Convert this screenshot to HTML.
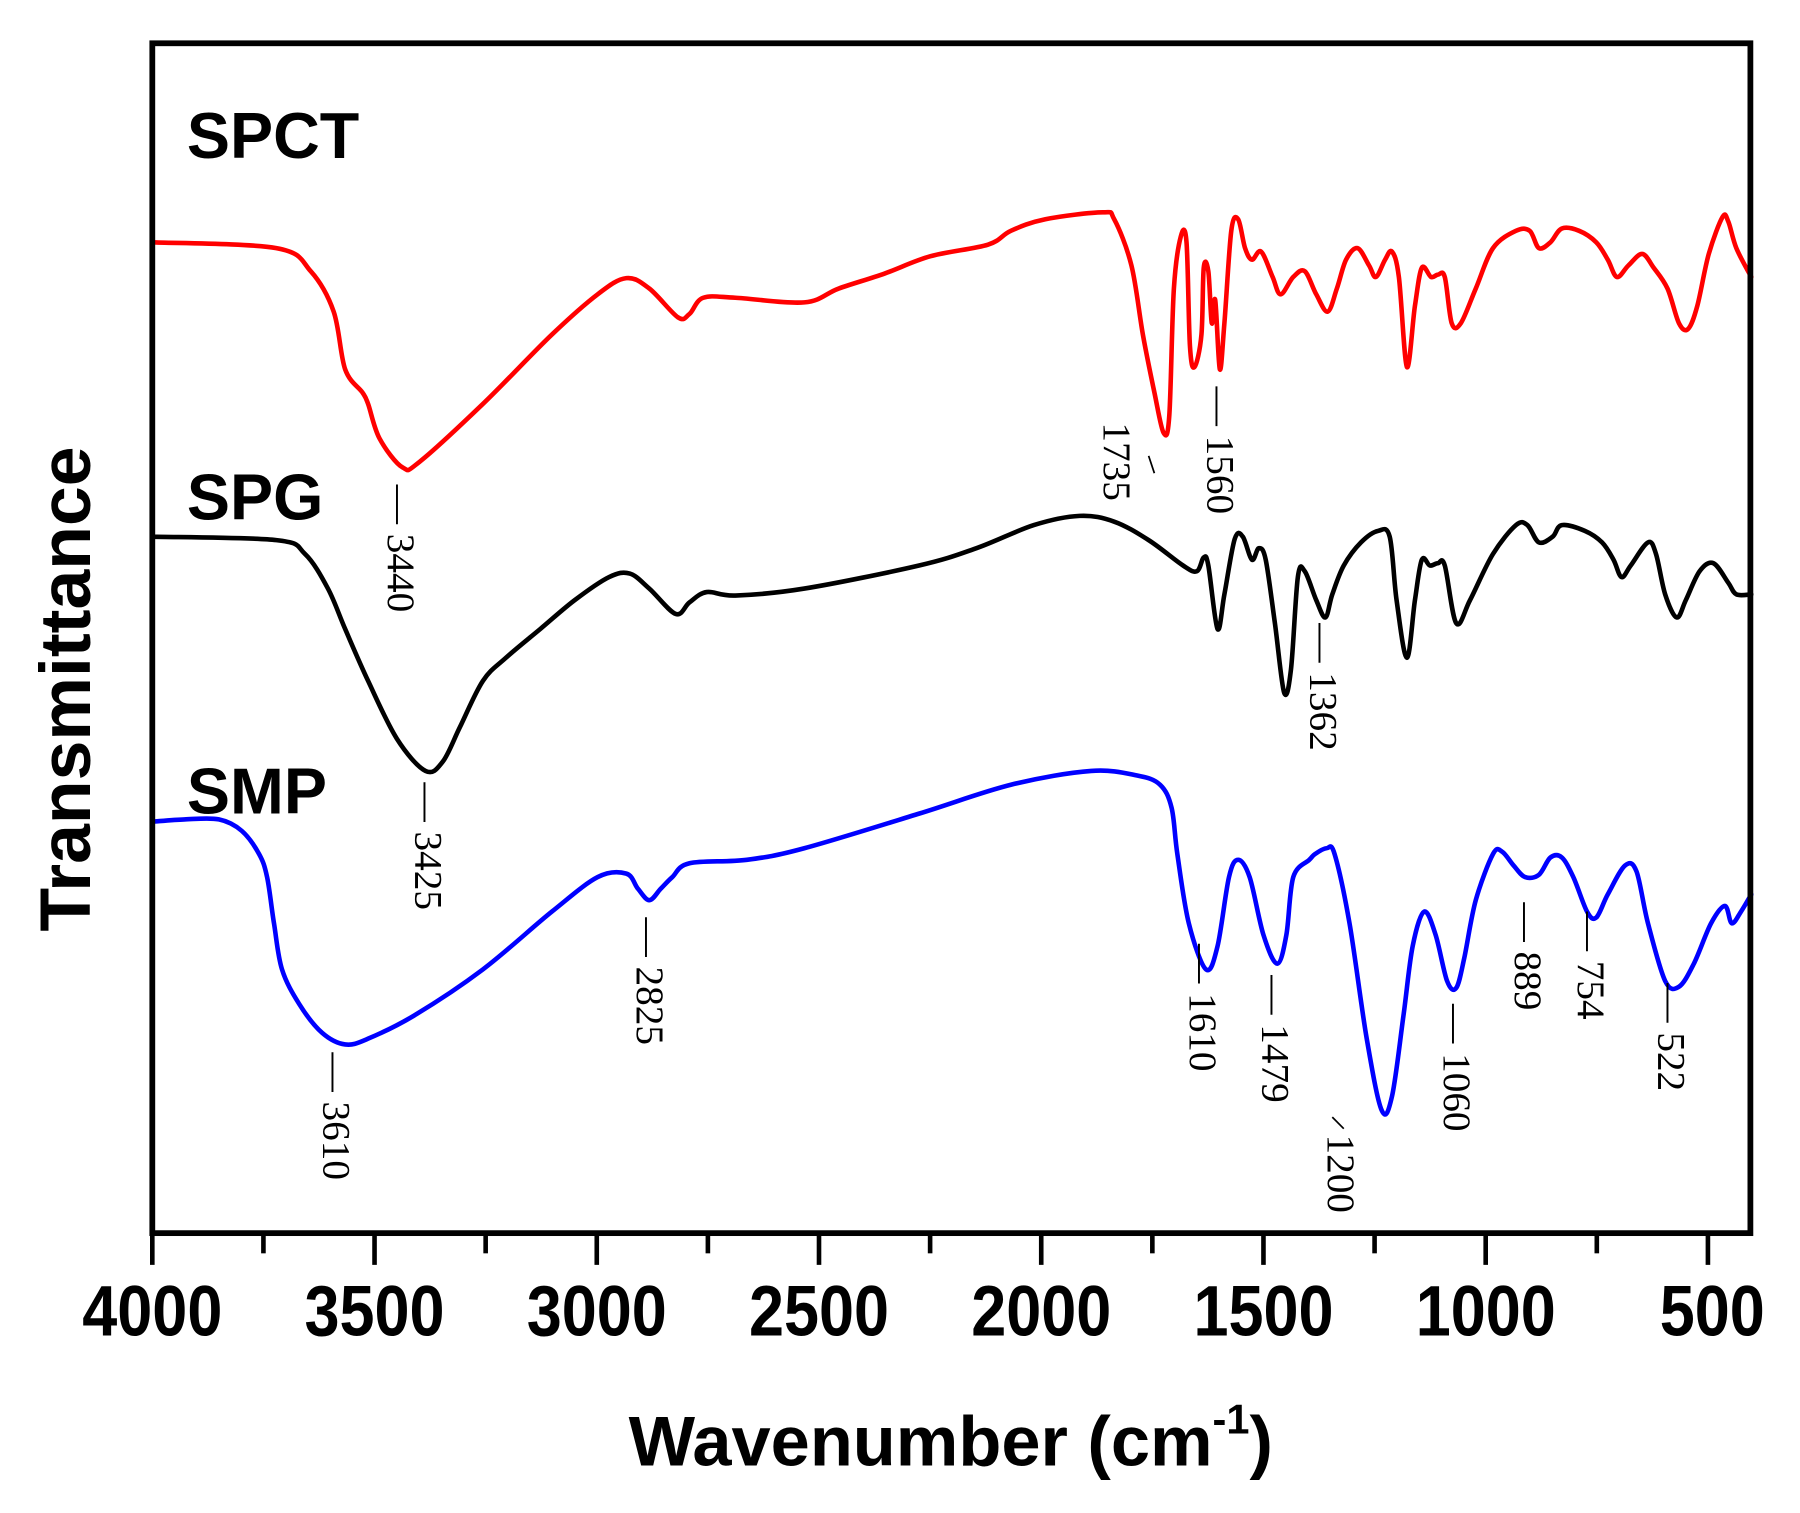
<!DOCTYPE html>
<html><head><meta charset="utf-8"><style>html,body{margin:0;padding:0;background:#fff}svg{display:block}</style></head>
<body>
<svg id="s" width="1800" height="1513" viewBox="0 0 1560 1311" preserveAspectRatio="none" xmlns="http://www.w3.org/2000/svg">
<rect width="1560" height="1311" fill="#fff"/>
<g transform="translate(132,0) scale(0.9948,1) translate(-132,0)">
<g fill="none" stroke-width="4" stroke-linejoin="round" stroke-linecap="round">
<polyline class="c" stroke="#ff0000" points="132,210 240,215 270,235 290,270 300,320 315,340 320,350 330,380 350,405 365,400 420,350 480,290 520,255 545,241 565,250 590,275 600,272 612,258 640,258 700,262 730,250 770,237 810,222 860,212 880,200 910,190 960,184 970,190 985,230 995,290 1005,340 1013,375 1018,360 1022,250 1028,205 1033,210 1036,300 1040,318 1046,290 1048,232 1052,235 1055,280 1058,260 1062,320 1066,280 1072,200 1078,190 1084,215 1090,225 1098,218 1108,240 1115,255 1126,240 1136,235 1146,255 1156,270 1164,250 1172,225 1182,215 1192,230 1198,240 1206,225 1212,218 1218,240 1225,318 1232,265 1238,232 1246,240 1252,238 1258,240 1264,280 1272,280 1285,250 1300,215 1320,200 1332,200 1340,215 1350,210 1360,198 1375,200 1390,210 1400,225 1408,240 1418,230 1430,220 1440,232 1452,250 1462,280 1470,285 1478,265 1488,220 1500,188 1505,192 1512,215 1525,240"/>
<polyline class="c" stroke="#000" points="132,465 240,468 265,480 285,510 300,545 320,590 345,640 370,668 385,660 400,630 420,590 440,570 470,545 500,520 530,500 548,497 565,510 588,532 600,522 615,513 640,516 700,510 800,490 850,475 900,455 940,447 970,452 1000,468 1030,490 1042,495 1048,483 1052,490 1060,545 1066,515 1075,467 1082,465 1090,485 1096,475 1102,485 1110,540 1118,600 1124,580 1130,500 1136,495 1146,520 1154,535 1160,515 1170,490 1185,470 1200,460 1210,465 1216,520 1225,570 1232,520 1238,485 1245,490 1252,488 1258,490 1268,540 1280,520 1300,480 1320,455 1330,455 1340,470 1352,465 1360,455 1380,460 1395,470 1405,485 1412,500 1420,490 1435,470 1442,480 1450,515 1460,535 1468,520 1480,495 1492,488 1505,505 1512,515 1525,515"/>
<polyline class="c" stroke="#0000ff" points="132,712 160,710 190,710 210,720 225,740 232,760 238,800 245,840 260,870 280,895 300,905 320,900 360,880 420,840 480,790 520,760 545,757 555,770 565,780 575,770 585,760 600,748 650,745 700,735 800,705 880,680 950,668 990,672 1010,680 1020,700 1025,740 1035,800 1050,840 1060,820 1070,760 1078,745 1088,760 1100,810 1112,835 1120,810 1126,760 1140,745 1145,740 1155,735 1162,740 1175,800 1190,900 1203,962 1212,950 1222,880 1230,820 1240,790 1250,810 1260,850 1268,856 1275,830 1285,780 1300,740 1308,738 1318,750 1328,760 1340,758 1350,743 1360,743 1370,760 1382,790 1390,795 1400,775 1415,750 1425,755 1435,800 1450,850 1462,855 1475,835 1490,800 1502,785 1508,800 1516,790 1525,775"/>
</g>
<g font-family="Liberation Serif, serif" font-size="34" fill="#000" dominant-baseline="central">
<text transform="translate(348,420) rotate(90)">— 3440</text>
<text transform="translate(972,366) rotate(90)">1735</text>
<text transform="translate(1062,335) rotate(90)">— 1560</text>
<text transform="translate(372,678) rotate(90)">— 3425</text>
<text transform="translate(1152,540) rotate(90)">— 1362</text>
<text transform="translate(292,912) rotate(90)">— 3610</text>
<text transform="translate(565,795) rotate(90)">— 2825</text>
<text transform="translate(1047,818) rotate(90)">— 1610</text>
<text transform="translate(1110,845) rotate(90)">— 1479</text>
<text transform="translate(1167,983) rotate(90)">1200</text>
<text transform="translate(1268,870) rotate(90)">— 1060</text>
<text transform="translate(1330,782) rotate(90)">— 889</text>
<text transform="translate(1385,790) rotate(90)">— 754</text>
<text transform="translate(1455,852) rotate(90)">— 522</text>
</g>
<g stroke="#000" stroke-width="1.5">
<line x1="1000" y1="395" x2="1005" y2="410"/>
<line x1="1160" y1="968" x2="1170" y2="978"/>
</g>
</g>
<rect x="132" y="37.5" width="1385" height="1031" fill="none" stroke="#000" stroke-width="5"/>
<g stroke="#000" stroke-width="4">
<line x1="132" y1="1069" x2="132" y2="1096"/><line x1="228.3" y1="1069" x2="228.3" y2="1086"/>
<line x1="324.6" y1="1069" x2="324.6" y2="1096"/><line x1="420.9" y1="1069" x2="420.9" y2="1086"/>
<line x1="517.2" y1="1069" x2="517.2" y2="1096"/><line x1="613.5" y1="1069" x2="613.5" y2="1086"/>
<line x1="709.8" y1="1069" x2="709.8" y2="1096"/><line x1="806.1" y1="1069" x2="806.1" y2="1086"/>
<line x1="902.4" y1="1069" x2="902.4" y2="1096"/><line x1="998.7" y1="1069" x2="998.7" y2="1086"/>
<line x1="1095" y1="1069" x2="1095" y2="1096"/><line x1="1191.3" y1="1069" x2="1191.3" y2="1086"/>
<line x1="1287.6" y1="1069" x2="1287.6" y2="1096"/><line x1="1383.9" y1="1069" x2="1383.9" y2="1086"/>
<line x1="1480.2" y1="1069" x2="1480.2" y2="1096"/>
</g>
<g font-family="Liberation Sans, sans-serif" font-weight="bold" font-size="62" text-anchor="middle" fill="#000">
<text transform="translate(132,1157) scale(0.88,1)">4000</text>
<text transform="translate(324.6,1157) scale(0.88,1)">3500</text>
<text transform="translate(517.2,1157) scale(0.88,1)">3000</text>
<text transform="translate(709.8,1157) scale(0.88,1)">2500</text>
<text transform="translate(902.4,1157) scale(0.88,1)">2000</text>
<text transform="translate(1095,1157) scale(0.88,1)">1500</text>
<text transform="translate(1287.6,1157) scale(0.88,1)">1000</text>
<text transform="translate(1484,1157) scale(0.88,1)">500</text>
<text x="824" y="1270" font-size="61">Wavenumber (cm<tspan font-size="36" dy="-28">-1</tspan><tspan dy="28">)</tspan></text>
<text transform="translate(78,597) rotate(-90)" font-size="62">Transmittance</text>
</g>
<g font-family="Liberation Sans, sans-serif" font-weight="bold" font-size="56" fill="#000">
<text x="162" y="137">SPCT</text><text x="162" y="450">SPG</text><text x="162" y="705">SMP</text>
</g>
</svg>
<script>
document.querySelectorAll('polyline.c').forEach(function(pl){
  var n=pl.getAttribute('points').trim().split(/\s+/).map(function(s){var a=s.split(',');return[+a[0],+a[1]];});
  var d='M'+n[0][0]+','+n[0][1];
  for(var i=0;i<n.length-1;i++){
    var p0=n[i-1]||n[i],p1=n[i],p2=n[i+1],p3=n[i+2]||p2,t=0.5/3;
    var c1=[p1[0]+(p2[0]-p0[0])*t,p1[1]+(p2[1]-p0[1])*t];
    var c2=[p2[0]-(p3[0]-p1[0])*t,p2[1]-(p3[1]-p1[1])*t];
    d+=' C'+c1[0].toFixed(1)+','+c1[1].toFixed(1)+' '+c2[0].toFixed(1)+','+c2[1].toFixed(1)+' '+p2[0]+','+p2[1];
  }
  var p=document.createElementNS('http://www.w3.org/2000/svg','path');
  p.setAttribute('d',d);p.setAttribute('stroke',pl.getAttribute('stroke'));
  pl.parentNode.replaceChild(p,pl);
});
</script>
</body></html>
